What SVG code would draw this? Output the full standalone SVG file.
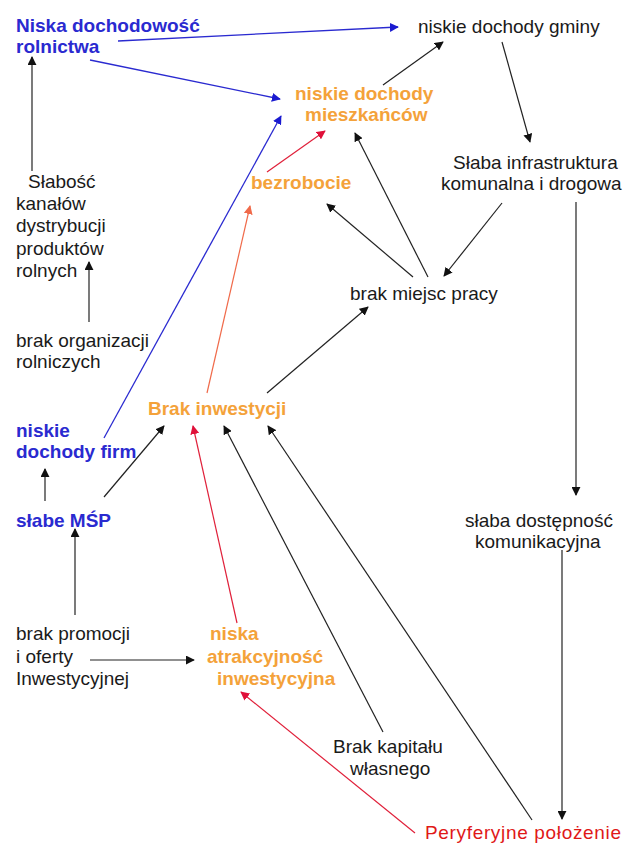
<svg xmlns="http://www.w3.org/2000/svg" width="626" height="844" viewBox="0 0 626 844">
<style>
text{font-family:"Liberation Sans",Arial,sans-serif;font-size:19px;}
.k{fill:#1a1a1a}
.b{fill:#2a2ad0;font-weight:bold}
.o{fill:#f4a23a;font-weight:bold}
.r{fill:#e01818}
.lk{stroke:#222;stroke-width:1.2;fill:none}
.lb{stroke:#2a2ad0;stroke-width:1.3;fill:none}
.lr{stroke:#e0203a;stroke-width:1.2;fill:none}
.lo{stroke:#f06a4a;stroke-width:1.2;fill:none}
</style>
<defs>
<marker id="ak" viewBox="0 0 10 10" refX="9" refY="5" markerWidth="9" markerHeight="9" markerUnits="userSpaceOnUse" orient="auto"><path d="M0,0 L10,5 L0,10 z" fill="#111"/></marker>
<marker id="ab" viewBox="0 0 10 10" refX="9" refY="5" markerWidth="9" markerHeight="9" markerUnits="userSpaceOnUse" orient="auto"><path d="M0,0 L10,5 L0,10 z" fill="#1a1ad0"/></marker>
<marker id="ar" viewBox="0 0 10 10" refX="9" refY="5" markerWidth="9" markerHeight="9" markerUnits="userSpaceOnUse" orient="auto"><path d="M0,0 L10,5 L0,10 z" fill="#e0103a"/></marker>
<marker id="ao" viewBox="0 0 10 10" refX="9" refY="5" markerWidth="9" markerHeight="9" markerUnits="userSpaceOnUse" orient="auto"><path d="M0,0 L10,5 L0,10 z" fill="#f06a4a"/></marker>
</defs>
<rect width="626" height="844" fill="#fff"/>
<g id="connectors">
<line class="lb" x1="118" y1="41" x2="398" y2="27" marker-end="url(#ab)"/>
<line class="lb" x1="90" y1="60" x2="280" y2="99" marker-end="url(#ab)"/>
<line class="lb" x1="104" y1="438" x2="281" y2="116" marker-end="url(#ab)"/>
<line class="lr" x1="267" y1="172" x2="325" y2="131" marker-end="url(#ar)"/>
<line class="lk" x1="383" y1="85" x2="443" y2="42" marker-end="url(#ak)"/>
<line class="lk" x1="502" y1="42" x2="530" y2="142" marker-end="url(#ak)"/>
<line class="lk" x1="502" y1="203" x2="444" y2="276" marker-end="url(#ak)"/>
<line class="lk" x1="428" y1="277" x2="355" y2="133" marker-end="url(#ak)"/>
<line class="lk" x1="413" y1="277" x2="327" y2="204" marker-end="url(#ak)"/>
<line class="lk" x1="576" y1="202" x2="576" y2="495" marker-end="url(#ak)"/>
<line class="lk" x1="562" y1="550" x2="562" y2="819" marker-end="url(#ak)"/>
<line class="lk" x1="267" y1="393" x2="368" y2="307" marker-end="url(#ak)"/>
<line class="lo" x1="207" y1="393" x2="250" y2="206" marker-end="url(#ao)"/>
<line class="lk" x1="104" y1="497" x2="164" y2="426" marker-end="url(#ak)"/>
<line class="lk" x1="45" y1="501" x2="45" y2="469" marker-end="url(#ak)"/>
<line class="lk" x1="75" y1="615" x2="75" y2="529" marker-end="url(#ak)"/>
<line class="lk" x1="90" y1="660" x2="194" y2="660" marker-end="url(#ak)"/>
<line class="lr" x1="237" y1="623" x2="193" y2="426" marker-end="url(#ar)"/>
<line class="lk" x1="383" y1="732" x2="224" y2="426" marker-end="url(#ak)"/>
<line class="lk" x1="532" y1="820" x2="268" y2="426" marker-end="url(#ak)"/>
<line class="lr" x1="415" y1="833" x2="241" y2="692" marker-end="url(#ar)"/>
<line class="lk" x1="89" y1="322" x2="89" y2="262" marker-end="url(#ak)"/>
<line class="lk" x1="32" y1="171" x2="32" y2="57" marker-end="url(#ak)"/>
</g>
<g id="n-niska-dochodowosc"><text class="b" x="16" y="32">Niska dochodowość</text><text class="b" x="16" y="53">rolnictwa</text></g>
<g id="n-dochody-gminy"><text class="k" x="418" y="33">niskie dochody gminy</text></g>
<g id="n-dochody-mieszkancow"><text class="o" x="295" y="100">niskie dochody</text><text class="o" x="305" y="121">mieszkańców</text></g>
<g id="n-infrastruktura"><text class="k" x="453" y="169">Słaba infrastruktura</text><text class="k" x="441" y="190">komunalna i drogowa</text></g>
<g id="n-bezrobocie"><text class="o" x="251" y="189">bezrobocie</text></g>
<g id="n-slabosc"><text class="k" x="28" y="188">Słabość</text><text class="k" x="16" y="210">kanałów</text><text class="k" x="16" y="232">dystrybucji</text><text class="k" x="16" y="255">produktów</text><text class="k" x="16" y="277">rolnych</text></g>
<g id="n-miejsca-pracy"><text class="k" x="350" y="300">brak miejsc pracy</text></g>
<g id="n-organizacje"><text class="k" x="16" y="347">brak organizacji</text><text class="k" x="16" y="368">rolniczych</text></g>
<g id="n-brak-inwestycji"><text class="o" x="148" y="415">Brak inwestycji</text></g>
<g id="n-dochody-firm"><text class="b" x="16" y="437">niskie</text><text class="b" x="16" y="458">dochody firm</text></g>
<g id="n-slabe-msp"><text class="b" x="16" y="527">słabe MŚP</text></g>
<g id="n-dostepnosc"><text class="k" x="465" y="527">słaba dostępność</text><text class="k" x="475" y="548">komunikacyjna</text></g>
<g id="n-promocja"><text class="k" x="16" y="640">brak promocji</text><text class="k" x="16" y="663">i oferty</text><text class="k" x="16" y="685">Inwestycyjnej</text></g>
<g id="n-atrakcyjnosc"><text class="o" x="210" y="640">niska</text><text class="o" x="207" y="663">atrakcyjność</text><text class="o" x="217" y="685">inwestycyjna</text></g>
<g id="n-kapital"><text class="k" x="333" y="753">Brak kapitału</text><text class="k" x="350" y="775">własnego</text></g>
<g id="n-peryferyjne"><text class="r" x="425" y="839" textLength="196" lengthAdjust="spacing">Peryferyjne położenie</text></g>
</svg>
